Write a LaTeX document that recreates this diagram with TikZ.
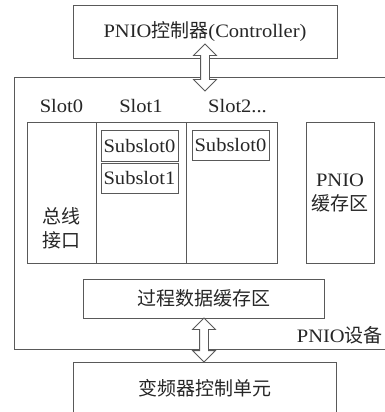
\documentclass[tikz,border=0pt]{standalone}
\usepackage{fontspec}
\setmainfont{Liberation Serif}[FakeStretch=1.08]
\newfontfamily\cjk{Noto Sans CJK SC}
\usetikzlibrary{calc,positioning,shapes.arrows}

\begin{document}
\begin{tikzpicture}[
    x=1pt,y=1pt,font=\fontsize{19}{24}\selectfont,
    box/.style={rectangle,draw=black!65,line width=0.9pt,inner sep=0pt,outer sep=0pt,text=black!85},
    txt/.style={inner sep=0pt,text=black!85},
    dblarrow/.style={double arrow,draw=black!65,fill=white,line width=0.8pt,inner sep=0pt,
        text height=8pt,text depth=0pt,minimum width=22pt,double arrow head extend=7pt,rotate=90}]
    \path[use as bounding box,clip] (0,0) rectangle (385,-412);

    % controller and device
    \node[box,minimum width=264,minimum height=53] (ctrl) at (205,-31.5) {PNIO{\cjk 控制器}(Controller)};
    \node[box,minimum width=382,minimum height=272] (dev) at (205,-213) {};
    \node[txt,anchor=east] (devlbl) at (383,-335) {PNIO{\cjk 设备}};

    % slots
    \node[box,minimum width=69,minimum height=141] (slot0) at (61.5,-192.5) {};
    \node[box,minimum width=90,minimum height=141,right=0pt of slot0] (slot1) {};
    \node[box,minimum width=91,minimum height=141,right=0pt of slot1] (slot2) {};
    \node[box,minimum width=68,minimum height=141,align=center] (buf) at (340,-192.5) {PNIO\\{\cjk 缓存区}};
    \node[txt,above=9pt of slot0] (lbl0) {Slot0};
    \node[txt,above=9pt of slot1] (lbl1) {Slot1};
    \node[txt,above=9pt of slot2,xshift=6pt] (lbl2) {Slot2...};
    \node[txt,align=center] (bus) at (61,-228) {{\cjk 总线}\\{\cjk 接口}};

    % subslots
    \node[box,minimum width=77,minimum height=31] (sub10) at (139.5,-145.5) {Subslot0};
    \node[box,minimum width=77,minimum height=30,below=2pt of sub10] (sub11) {Subslot1};
    \node[box,minimum width=77,minimum height=30] (sub20) at (230.5,-145) {Subslot0};

    % buffers and drive
    \node[box,minimum width=241,minimum height=39] (proc) at (203.5,-298.5) {\cjk 过程数据缓存区};
    \node[box,minimum width=263,minimum height=53] (vfd) at (204.5,-388.5) {\cjk 变频器控制单元};

    \node[dblarrow,minimum height=47] (arr1) at ($(ctrl.south)!0.5!(dev.north)$) {};
    \node[dblarrow,minimum height=44] (arr2) at ($(proc.south)!0.5!(vfd.north)$) {};
\end{tikzpicture}
\end{document}
